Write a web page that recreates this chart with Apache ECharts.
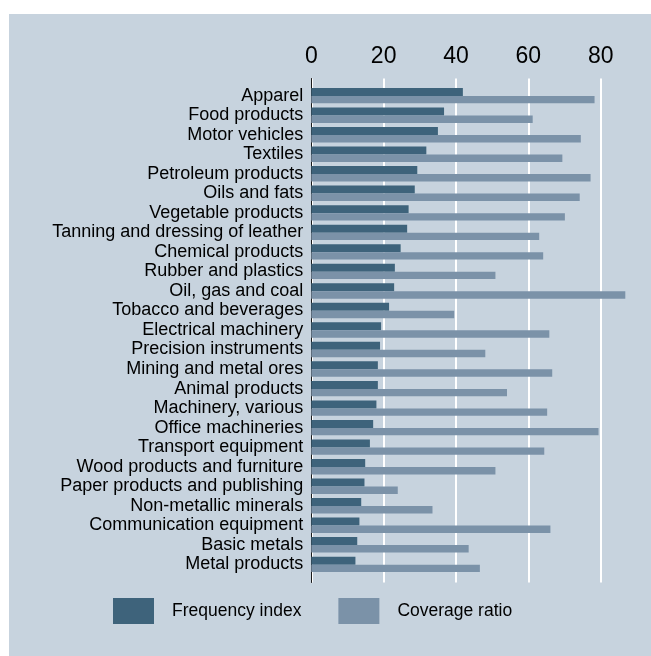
<!DOCTYPE html>
<html>
<head>
<meta charset="utf-8">
<script src="https://cdn.jsdelivr.net/npm/echarts@6/dist/echarts.min.js"></script>
<style>
html,body{margin:0;padding:0;background:#fff;}
#c{position:absolute;left:9px;top:14px;width:642px;height:642px;}
</style>
</head>
<body>
<div id="c"></div>
<script>
const categories = ["Apparel","Food products","Motor vehicles","Textiles","Petroleum products","Oils and fats","Vegetable products","Tanning and dressing of leather","Chemical products","Rubber and plastics","Oil, gas and coal","Tobacco and beverages","Electrical machinery","Precision instruments","Mining and metal ores","Animal products","Machinery, various","Office machineries","Transport equipment","Wood products and furniture","Paper products and publishing","Non-metallic minerals","Communication equipment","Basic metals","Metal products"];
const frequencyIndex = [41.9,36.7,35.0,31.8,29.3,28.6,26.9,26.5,24.7,23.1,22.9,21.5,19.3,19.0,18.4,18.4,18.0,17.1,16.2,14.9,14.7,13.8,13.3,12.7,12.2];
const coverageRatio = [78.3,61.2,74.5,69.4,77.2,74.2,70.1,63.0,64.1,50.9,86.8,39.5,65.8,48.1,66.6,54.1,65.2,79.4,64.4,50.9,23.9,33.5,66.1,43.5,46.6];
const xTicks = [0,20,40,60,80];

const chart = echarts.init(document.getElementById('c'));
const font = 'Liberation Sans, Arial, sans-serif';
chart.setOption({
  backgroundColor: '#c7d3de',
  animation: false,
  textStyle: {fontFamily: font},
  legend: {
    left: 104, top: 584, padding: 0, itemWidth: 41, itemHeight: 26, itemGap: 37,
    icon: 'rect',
    textStyle: {fontSize: 17.5, color: '#000', fontFamily: font, padding: [0,0,0,13]},
    data: ['Frequency index','Coverage ratio']
  },
  grid: [
    {left: 302.3, right: 50.3, top: 71.9, height: 488.2},
    {left: 302.3, right: 50.3, top: 64.5, height: 504}
  ],
  xAxis: [
    {gridIndex: 0, type: 'value', min: xTicks[0], max: xTicks[xTicks.length-1], interval: 20, show: false},
    {gridIndex: 1, type: 'value', position: 'top', min: xTicks[0], max: xTicks[xTicks.length-1], interval: 20,
     axisLine: {show: false}, axisTick: {show: false},
     axisLabel: {fontSize: 23, color: '#000', margin: 10, fontFamily: font},
     splitLine: {show: true, lineStyle: {color: '#fff', width: 2}}}
  ],
  yAxis: [
    {gridIndex: 0, type: 'category', data: categories, inverse: true,
     axisLine: {show: false}, axisTick: {show: false},
     axisLabel: {interval: 0, fontSize: 18, color: '#000', margin: 8, fontFamily: font, padding: [3,0,0,0]}},
    {gridIndex: 1, type: 'value', min: 0, max: 1,
     axisLine: {show: true, lineStyle: {color: '#1a1a1a', width: 1}},
     axisTick: {show: false}, axisLabel: {show: false}, splitLine: {show: false}}
  ],
  series: [
    {name: 'Frequency index', type: 'bar', xAxisIndex: 0, yAxisIndex: 0, data: frequencyIndex,
     barWidth: 8, barGap: '0%', clip: false, itemStyle: {color: '#3e637b'}},
    {name: 'Coverage ratio', type: 'bar', xAxisIndex: 0, yAxisIndex: 0, data: coverageRatio,
     barWidth: 7.4, barGap: '0%', clip: false, itemStyle: {color: '#7b92a8'}}
  ]
});
</script>
</body>
</html>
